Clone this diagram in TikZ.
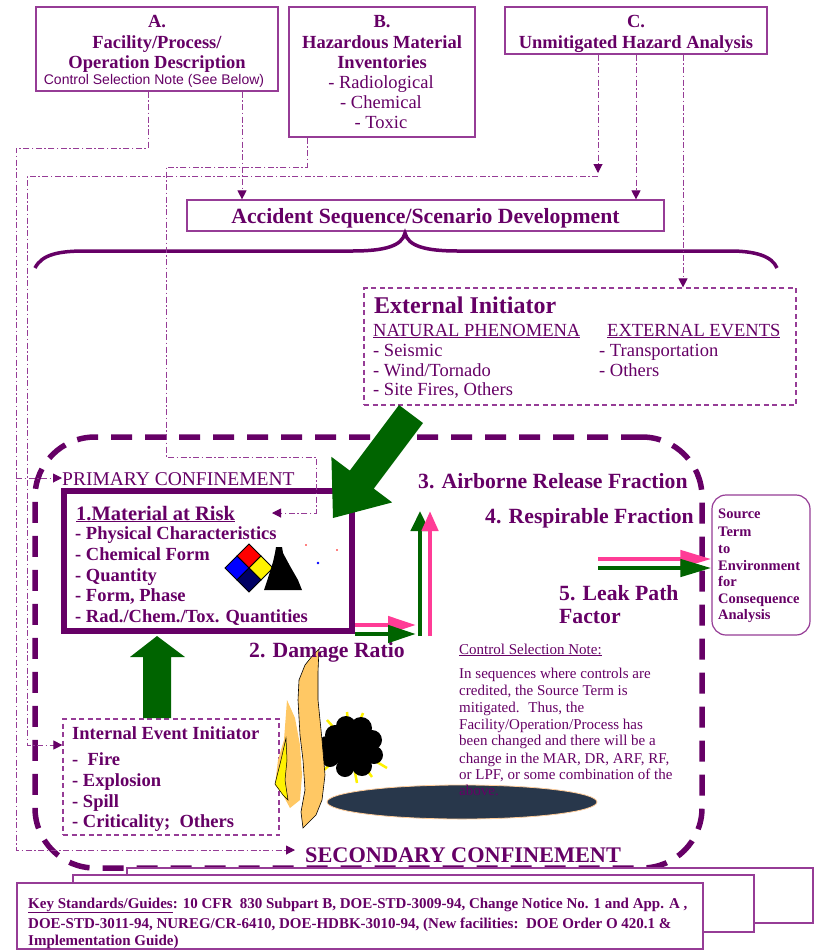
\documentclass[tikz,border=0pt]{standalone}
\usepackage{fontspec}
\setmainfont{Liberation Serif}
\newfontfamily\arialf{Liberation Sans}
\usetikzlibrary{arrows.meta,calc}
\definecolor{tp}{RGB}{102,0,102}
\definecolor{bp}{RGB}{150,60,150}
\definecolor{dg}{RGB}{0,100,0}
\definecolor{pk}{RGB}{255,60,150}
\definecolor{flameo}{RGB}{255,200,100}
\definecolor{navyq}{RGB}{0,0,100}
\definecolor{slate}{RGB}{40,55,75}
\newcommand{\myfs}[1]{\fontsize{#1}{#1}\selectfont}
\begin{document}
\begin{tikzpicture}[x=1pt,y=-1pt,
  tbox/.style={draw=bp,line width=1.2pt,inner sep=0pt},
  dbox/.style={draw=bp,line width=1.2pt,inner sep=0pt,dash pattern=on 5pt off 3.5pt},
  lbl/.style={anchor=base west,inner sep=0pt,text=tp},
  ctr/.style={anchor=base,inner sep=0pt,text=tp},
  dd/.style={draw=bp,line width=1pt,dash pattern=on 6pt off 2.5pt on 1.5pt off 2.5pt},
  ddtip/.style={-{Triangle[length=9pt,width=9pt,color=tp]}},
  dtip/.style={-{Triangle[length=9pt,width=9pt,color=tp]}},
  bold/.style={font=\bfseries\myfs{18.5}},
  reg/.style={font=\myfs{18.5}},
  big/.style={font=\bfseries\myfs{21.7}},
]
\useasboundingbox (0,0) rectangle (817,951);
\fill[white] (0,0) rectangle (817,951);

% ---------- top boxes ----------
\node[tbox,minimum width=242pt,minimum height=84pt] (boxA) at (157,49) {};
\node[ctr,bold] (a1) at (157,27) {A.};
\node[ctr,bold] (a2) at (157,48) {Facility/Process/};
\node[ctr,bold] (a3) at (157,68) {Operation Description};
\node[ctr,font=\arialf\myfs{14}] (a4) at (154,84) {Control Selection Note (See Below)};

\node[tbox,minimum width=186pt,minimum height=130pt] (boxB) at (382,72) {};
\node[ctr,bold] (b1) at (382,27) {B.};
\node[ctr,bold] (b2) at (382,48) {Hazardous Material};
\node[ctr,bold] (b3) at (382,68) {Inventories};
\node[ctr,reg] (b4) at (381,88) {- Radiological};
\node[ctr,reg] (b5) at (381,108) {- Chemical};
\node[ctr,reg] (b6) at (381,128) {- Toxic};

\node[tbox,minimum width=262pt,minimum height=47pt] (boxC) at (636,30.5) {};
\node[ctr,bold] (c1) at (636,27) {C.};
\node[ctr,bold] (c2) at (636,48) {Unmitigated Hazard Analysis};

\node[tbox,minimum width=477pt,minimum height=31pt] (acc) at (425.5,215.5) {};
\node[ctr,big] (acct) at (425.5,223) {Accident Sequence/Scenario Development};

% brace
\coordinate (bt) at (405,233);
\draw[tp,line width=3.5pt] (35,268) .. controls (42,254) and (60,251) .. (85,251) -- (352,251)
   .. controls (385,251) and (402,246) .. (bt)
   .. controls (408,246) and (425,251) .. (458,251) -- (730,251)
   .. controls (755,251) and (772,256) .. (777,268);

% ---------- external initiator ----------
\node[dbox,minimum width=432pt,minimum height=117pt] (ext) at (580,346.5) {};
\node[lbl,font=\bfseries\myfs{24}] (e1) at (374,313) {External Initiator};
\node[lbl,reg] (e2) at (373,336) {\underline{NATURAL PHENOMENA}};
\node[lbl,reg] (e3) at (607,336) {\underline{EXTERNAL EVENTS}};
\node[lbl,reg] (e4) at (373,356) {- Seismic};
\node[lbl,reg] (e5) at (373,376) {- Wind/Tornado};
\node[lbl,reg] (e6) at (373,395) {- Site Fires, Others};
\node[lbl,reg] (e7) at (599,356) {- Transportation};
\node[lbl,reg] (e8) at (599,376) {- Others};

% ---------- secondary confinement ----------
\node[draw=tp,line width=5.5pt,dash pattern=on 21pt off 13pt,rounded corners=60pt,
      minimum width=667pt,minimum height=431pt,inner sep=0pt] (sec) at (368.5,652.5) {};

% ---------- key standards (stacked boxes) ----------
\node[tbox,fill=white,minimum width=686pt,minimum height=55pt] (k3) at (470,895.5) {};
\node[tbox,fill=white,minimum width=681pt,minimum height=57pt] (k2) at (413.5,903.5) {};
\node[tbox,fill=white,minimum width=686pt,minimum height=66pt] (k1) at (360,916) {};
\node[lbl,font=\bfseries\myfs{15}] (ks1) at (28,908) {\underline{Key Standards/Guides}: 10 CFR~~830 Subpart B, DOE-STD-3009-94, Change Notice No. 1 and App. A ,};
\node[lbl,font=\bfseries\myfs{15}] (ks2) at (28,928) {DOE-STD-3011-94, NUREG/CR-6410, DOE-HDBK-3010-94, (New facilities:~~DOE Order O 420.1 \&};
\node[lbl,font=\bfseries\myfs{15}] (ks3) at (28,945) {Implementation Guide)};

% ---------- material at risk ----------
\node[draw=tp,line width=6.5pt,minimum width=288pt,minimum height=140pt,inner sep=0pt] (mar) at (208,561) {};
\node[lbl,font=\bfseries\myfs{20.5}] (m0) at (76,520) {\underline{1.Material at Risk}};
\node[lbl,bold] (m1) at (75,539) {- Physical Characteristics};
\node[lbl,bold] (m2) at (75,560) {- Chemical Form};
\node[lbl,bold] (m3) at (75,581) {- Quantity};
\node[lbl,bold] (m4) at (75,601) {- Form, Phase};
\node[lbl,bold] (m5) at (75,622) {- Rad./Chem./Tox. Quantities};

% hazard diamond
\filldraw[fill=red,draw=black,line width=0.8pt] (249,544) -- (261,556) -- (249,568) -- (237,556) -- cycle;
\filldraw[fill=blue,draw=black,line width=0.8pt] (237,556) -- (249,568) -- (237,580) -- (225,568) -- cycle;
\filldraw[fill=yellow,draw=black,line width=0.8pt] (261,556) -- (273,568) -- (261,580) -- (249,568) -- cycle;
\filldraw[fill=navyq,draw=black,line width=0.8pt] (249,568) -- (261,580) -- (249,592) -- (237,580) -- cycle;
% black bell
\fill[black] (276,547) -- (282,547) -- (283,553) -- (290,566) -- (298,580) -- (302,590) -- (264,590) -- (268,578) -- (273,562) -- (275,553) -- cycle;
\fill[red] (306,545) circle (0.8pt);
\fill[red] (337,550) circle (0.8pt);
\fill[blue] (318,563) circle (1.3pt);

\node[lbl,font=\myfs{19.5}] (prim) at (62,485) {PRIMARY CONFINEMENT};

% ---------- internal event initiator ----------
\node[dbox,minimum width=216pt,minimum height=116pt] (intl) at (171,777) {};
\node[lbl,bold] (i0) at (72,739) {Internal Event Initiator};
\node[lbl,bold] (i1) at (72,765) {-~ Fire};
\node[lbl,bold] (i2) at (72,786) {- Explosion};
\node[lbl,bold] (i3) at (72,807) {- Spill};
\node[lbl,bold] (i4) at (72,827) {- Criticality;~~Others};

% green block arrow up (internal -> MAR)
\fill[dg] (143,718) -- (143,657) -- (130,657) -- (157,636) -- (185,657) -- (171,657) -- (171,718) -- cycle;

% big green arrow (external -> MAR)
\fill[dg] (423,423) -- (373.8,488.6) -- (392.2,502.4) -- (333,518) -- (331.4,456.8) -- (349.8,470.6) -- (399,405) -- cycle;

% ---------- fire / smoke / spill ----------
\fill[slate] (462,802) ellipse (135pt and 17pt);
\draw[orange!40,line width=0.8pt] (462,802) ellipse (135pt and 17pt);
\foreach \tx/\ty in {347/712,363/713,327/720,373/732,387/768,357/783,372/777,324/770} {
  \draw[yellow,line width=2.5pt] (350,746) -- (\tx,\ty);
}
\fill[black] (350,746) circle (21pt);
\foreach \cx/\cy/\r in {335/735/10,346/726/10,361/728/11,372/740/10,374/755/9,362/766/10,345/768/9,330/758/9,327/745/9} {
  \fill[black] (\cx,\cy) circle (\r pt);
}
% flames
\filldraw[fill=flameo,draw=black,line width=0.6pt] (313,655) -- (319,649) -- (318,672) -- (318,700) -- (322,740) -- (325,775) -- (322,800) -- (316,815) -- (303,828) -- (301,812) -- (305,790) -- (303,760) -- (300,735) -- (298,700) -- (299,680) -- (305,665) -- cycle;
\fill[flameo] (287,700) -- (295,718) -- (300,745) -- (302,775) -- (300,800) -- (290,808) -- (283,795) -- (275,785) -- (278,760) -- (284,740) -- cycle;
\filldraw[fill=yellow,draw=black,line width=0.5pt] (286,738) -- (281,760) -- (275,784) -- (283,795) -- (288,800) -- (285,780) -- (287,760) -- cycle;

% ---------- labels ----------
\node[lbl,big] (l3) at (418,488) {3. Airborne Release Fraction};
\node[lbl,big] (l4) at (485,523) {4. Respirable Fraction};
\node[lbl,big] (l5) at (559,600) {5. Leak Path};
\node[lbl,big] (l5b) at (559,623) {Factor};
\node[lbl,big] (l2) at (249,657) {2. Damage Ratio};
\node[lbl,font=\bfseries\myfs{22.3}] (secl) at (305,862) {SECONDARY CONFINEMENT};

% ---------- source term ----------
\node[tbox,rounded corners=14pt,minimum width=98pt,minimum height=140pt] (src) at (761,565) {};
\node[lbl,font=\bfseries\myfs{14.5}] (s1) at (718,518) {Source};
\node[lbl,font=\bfseries\myfs{14.5}] (s2) at (718,536) {Term};
\node[lbl,font=\bfseries\myfs{14.5}] (s3) at (718,553) {to};
\node[lbl,font=\bfseries\myfs{14.5}] (s4) at (718,570) {Environment};
\node[lbl,font=\bfseries\myfs{14.5}] (s5) at (718,586) {for};
\node[lbl,font=\bfseries\myfs{14.5}] (s6) at (718,603) {Consequence};
\node[lbl,font=\bfseries\myfs{14.5}] (s7) at (718,619) {Analysis};

% pink / green arrows
\draw[pk,line width=4.5pt,-{Triangle[length=28pt,width=17pt]}] (mar.east |- 0,625) -- (416,625);
\draw[dg,line width=4.5pt,-{Triangle[length=28pt,width=17pt]}] (mar.east |- 0,634) -- (416,634);
\draw[dg,line width=4.5pt,-{Triangle[length=20pt,width=18pt]}] (420,636) -- (420,511);
\draw[pk,line width=4.5pt,-{Triangle[length=20pt,width=16pt]}] (430,636) -- (430,511);
\draw[pk,line width=4.5pt,-{Triangle[length=31pt,width=17pt]}] (598,559) -- (src.west |- 0,559);
\draw[dg,line width=4.5pt,-{Triangle[length=31pt,width=17pt]}] (598,568) -- (src.west |- 0,568);

% ---------- control selection note ----------
\node[lbl,font=\myfs{15}] (cn0) at (459,654) {\underline{Control Selection Note:}};
\node[lbl,font=\myfs{15}] (cn1) at (459,678) {In sequences where controls are};
\node[lbl,font=\myfs{15}] (cn2) at (459,695) {credited, the Source Term is};
\node[lbl,font=\myfs{15}] (cn3) at (459,712) {mitigated.~ Thus, the};
\node[lbl,font=\myfs{15}] (cn4) at (459,729) {Facility/Operation/Process has};
\node[lbl,font=\myfs{15}] (cn5) at (459,745) {been changed and there will be a};
\node[lbl,font=\myfs{15}] (cn6) at (459,763) {change in the MAR, DR, ARF, RF,};
\node[lbl,font=\myfs{15}] (cn7) at (459,779) {or LPF, or some combination of the};
\node[lbl,font=\myfs{15}] (cn8) at (459,795) {above.};

% ---------- dash-dot connectors ----------
\draw[dd,ddtip] (boxA.south -| 242,0) -- (acc.north -| 242,0);
\draw[dd,dtip] (boxA.south -| 148,0) -- (148,148) -- (16,148) -- (16,850) -- ($(secl.west |- 0,850)+(-10,0)$);
\draw[dd,ddtip] (16,478) -- (prim.west |- 0,478);
\draw[dd,ddtip] (boxB.south -| 307,0) -- (307,167) -- (166,167) -- (166,457) -- (316,457) -- (316,513) -- (272,513);
\draw[dd,ddtip] (boxC.south -| 598,0) -- (598,173);
\draw[dd,ddtip] (598,176) -- (27,176) -- (27,745) -- (intl.west |- 0,745);
\draw[dd,ddtip] (boxC.south -| 636,0) -- (acc.north -| 636,0);
\draw[dd,ddtip] (boxC.south -| 683,0) -- (ext.north -| 683,0);
\end{tikzpicture}
\end{document}
